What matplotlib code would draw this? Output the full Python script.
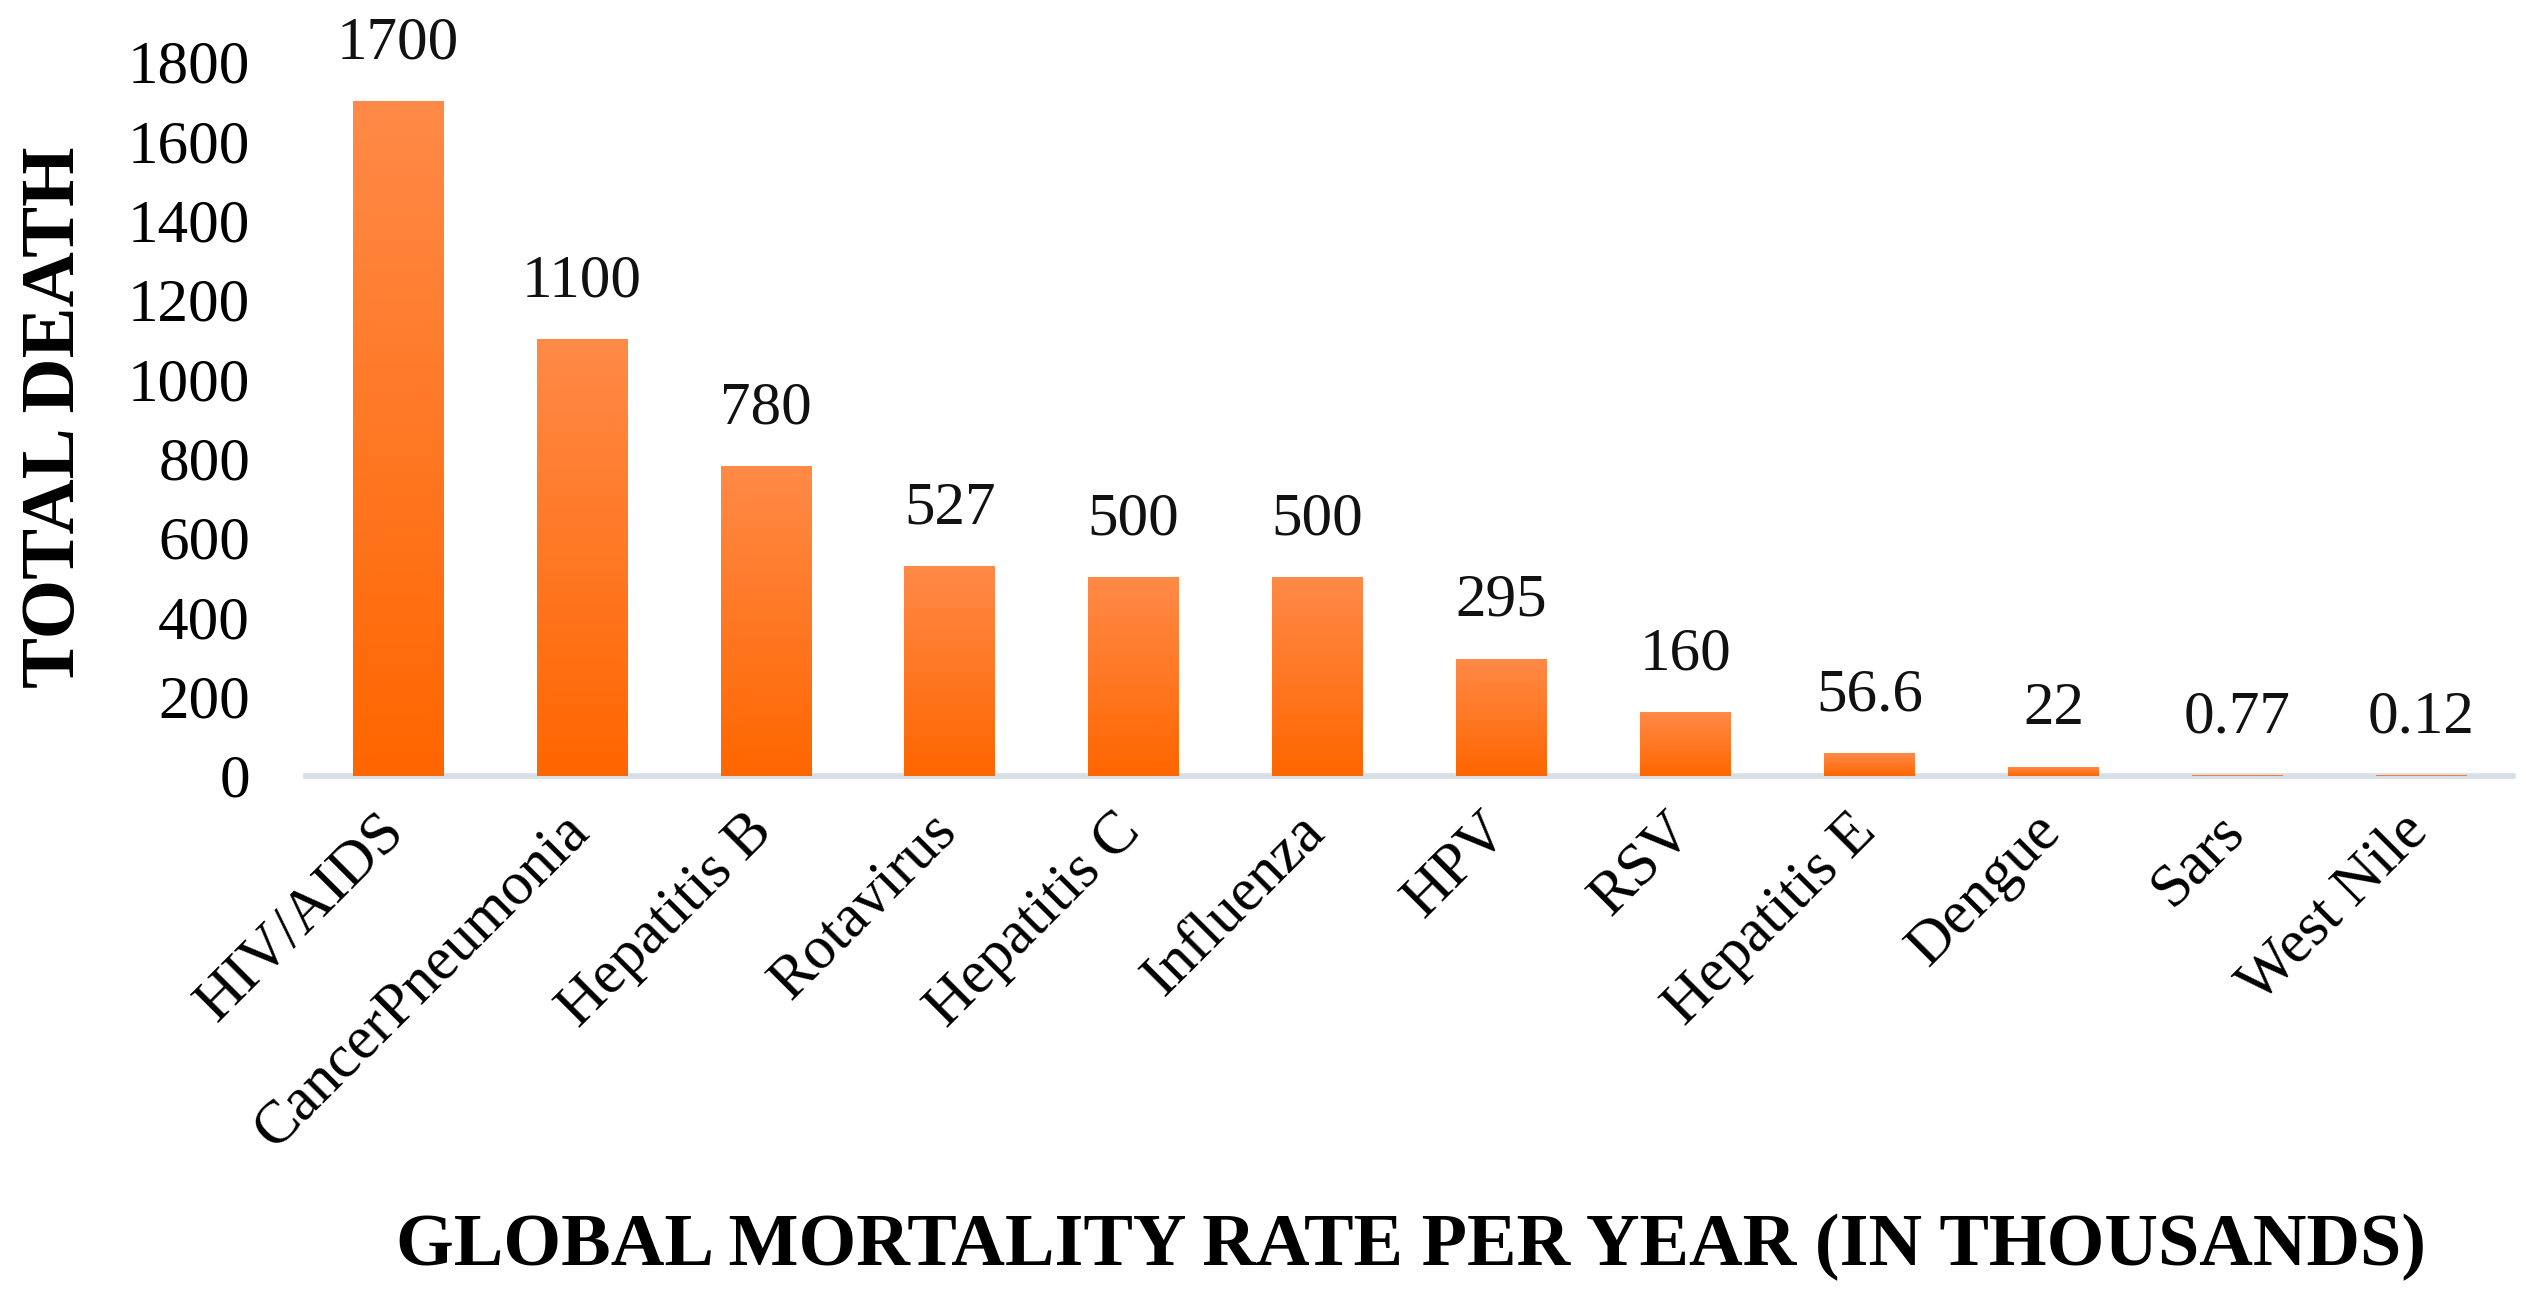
import numpy as np
import matplotlib
matplotlib.use('Agg')
import matplotlib.pyplot as plt
import matplotlib.transforms as mtransforms
from matplotlib.colors import LinearSegmentedColormap

# Data
diseases = ["HIV/AIDS", "CancerPneumonia", "Hepatitis B", "Rotavirus", "Hepatitis C",
            "Influenza", "HPV", "RSV", "Hepatitis E", "Dengue", "Sars", "West Nile"]
deaths = [1700, 1100, 780, 527, 500, 500, 295, 160, 56.6, 22, 0.77, 0.12]
value_labels = ["1700", "1100", "780", "527", "500", "500", "295", "160", "56.6", "22", "0.77", "0.12"]
yticks = [0, 200, 400, 600, 800, 1000, 1200, 1400, 1600, 1800]

plt.rcParams['font.family'] = ['Liberation Serif', 'DejaVu Serif']

fig = plt.figure(figsize=(25.26, 13.10), dpi=100)
ax = fig.add_axes([0.121, 0.408, 0.874, 0.545])

x = np.arange(len(diseases))
bars = ax.bar(x, deaths, width=0.49, color="#FF7A20", edgecolor="none", zorder=2)

# vertical gradient inside each bar (lighter at the top)
cmap = LinearSegmentedColormap.from_list("orng", ["#FF6600", "#FF8A48"])
grad = np.linspace(0, 1, 256).reshape(-1, 1)
for b in bars:
    h = b.get_height()
    if h <= 0:
        continue
    im = ax.imshow(grad, cmap=cmap, origin='lower', aspect='auto',
                   extent=(b.get_x(), b.get_x() + b.get_width(), 0, h), zorder=3)
    im.set_clip_path(b)

for xi, v, lab in zip(x, deaths, value_labels):
    ax.annotate(lab, (xi, v), xytext=(0, 31), textcoords='offset points',
                ha='center', va='baseline', fontsize=44, color='#111111')

ax.set_xlim(-0.5, len(diseases) - 0.5)
ax.set_ylim(0, 1800)
ax.set_yticks(yticks)
ax.set_yticklabels([str(t) for t in yticks], fontsize=44)
ax.set_xticks(x)
ax.set_xticklabels(diseases, rotation=45, ha='right', fontsize=44)
ax.tick_params(axis='both', length=0)
ax.tick_params(axis='y', pad=40)
ax.tick_params(axis='x', pad=20)
shift = mtransforms.ScaledTranslation(18 / 100, 0, fig.dpi_scale_trans)
for lbl in ax.get_xticklabels():
    lbl.set_transform(lbl.get_transform() + shift)

for s in ['top', 'right', 'left']:
    ax.spines[s].set_visible(False)
ax.spines['bottom'].set_color('#D6DEE8')
ax.spines['bottom'].set_linewidth(4)
ax.spines['bottom'].set_zorder(1)

fig.text(0.022, 0.6815, "TOTAL DEATH", rotation=90, ha='center', va='center',
         fontsize=55, fontweight='bold')
fig.text(0.5585, (1310 - 1265) / 1310, "GLOBAL MORTALITY RATE PER YEAR (IN THOUSANDS)",
         ha='center', va='baseline', fontsize=53.5, fontweight='bold')

fig.savefig("out.png", dpi=100, facecolor='white')
